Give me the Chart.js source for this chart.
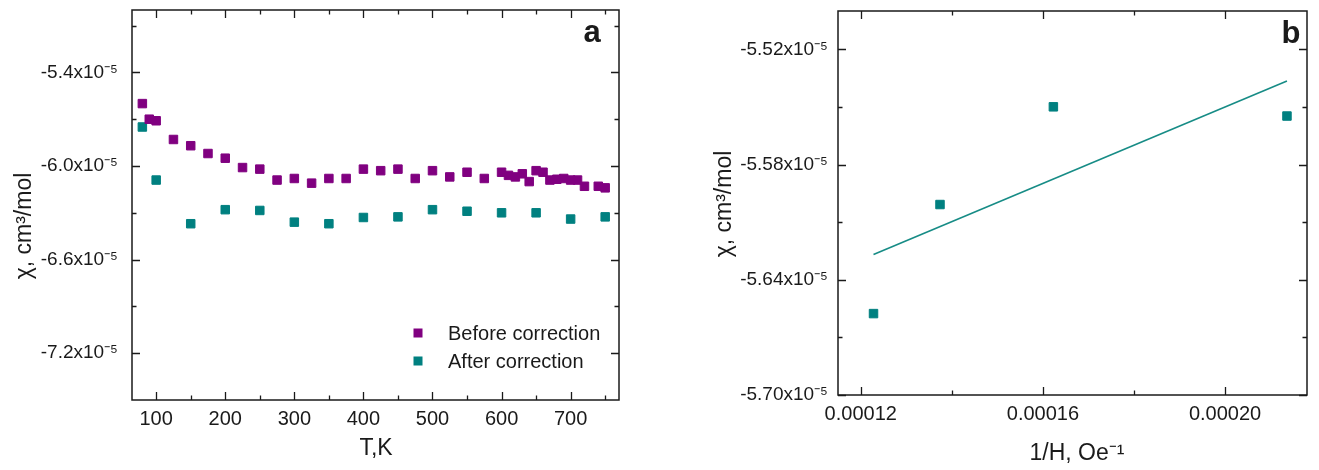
<!DOCTYPE html>
<html lang="en">
<head>
<meta charset="UTF-8">
<title>Magnetic susceptibility</title>
<script src="https://cdn.jsdelivr.net/npm/chart.js"></script>
<style>
    body { margin: 0; background: #fff; }
    .wrap { position: relative; width: 1319px; height: 470px; }
    #chartA { position: absolute; left: 0; top: 0; }
    #chartB { position: absolute; left: 660px; top: 0; }
</style>
</head>
<body>
<div class="wrap">
    <canvas id="chartA" width="660" height="470"></canvas>
    <canvas id="chartB" width="659" height="470"></canvas>
</div>
<script>
// panel a: chi in units of 1e-5 cm3/mol against T, K
const tempBefore = [80, 90, 100, 125, 150, 175, 200, 225, 250, 275, 300, 325, 350, 375, 400, 425, 450, 475, 500, 525, 550, 575,
    600, 610, 620, 630, 640, 650, 660, 670, 680, 690, 700, 710, 720, 740, 750];
const chiBefore = [-5.60, -5.70, -5.71, -5.83, -5.87, -5.92, -5.95, -6.01, -6.02, -6.09, -6.08, -6.11, -6.08, -6.08, -6.02, -6.03, -6.02, -6.08, -6.03, -6.07, -6.04, -6.08,
    -6.04, -6.06, -6.07, -6.05, -6.10, -6.03, -6.04, -6.09, -6.085, -6.08, -6.09, -6.09, -6.13, -6.13, -6.14];
const tempAfter = [80, 100, 150, 200, 250, 300, 350, 400, 450, 500, 550, 600, 650, 700, 750];
const chiAfter = [-5.75, -6.09, -6.37, -6.28, -6.285, -6.36, -6.37, -6.33, -6.326, -6.28, -6.29, -6.30, -6.30, -6.34, -6.326];
const xTicksA = [100, 200, 300, 400, 500, 600, 700];
const yTicksA = [-7.2, -6.6, -6.0, -5.4];

// panel b: chi (1e-5 cm3/mol) against 1/H, Oe^-1, with the linear fit
const invH = [0.0001228, 0.0001374, 0.0001623, 0.0002136];
const chiH = [-5.6576, -5.6008, -5.5499, -5.5547];
const fitX = [0.0001228, 0.0002136];
const fitY = [-5.6268, -5.5364];
const xTicksB = [0.00012, 0.00016, 0.00020];
const xTickLabelsB = ['0.00012', '0.00016', '0.00020'];
const yTicksB = [-5.70, -5.64, -5.58, -5.52];

const PURPLE = '#800080';
const TEAL = '#008080';
const INK = '#1a1a1a';
const FONT = '"Liberation Sans", Arial, sans-serif';

// midpoints between major ticks, plus one step beyond each end, kept inside the axis
function minorTicks(major, min, max) {
    const step = major[1] - major[0];
    const out = [];
    for (let i = -1; i < major.length; i++) {
        const v = (i < 0 ? major[0] - step : major[i]) + step / 2;
        if (v > min + 1e-12 && v < max - 1e-12) out.push(v);
    }
    return out;
}

// box round the plot with inward ticks on all four sides
const frameTicks = {
    id: 'frameTicks',
    afterDraw(chart, args, opts) {
        const { ctx, chartArea: a, scales: { x, y } } = chart;
        ctx.save();
        ctx.strokeStyle = INK;
        ctx.lineWidth = 1.5;
        ctx.strokeRect(a.left, a.top, a.right - a.left, a.bottom - a.top);
        ctx.lineWidth = 1.3;
        ctx.beginPath();
        const xt = (v, len) => {
            const p = Math.round(x.getPixelForValue(v)) + 0.5;
            ctx.moveTo(p, a.bottom); ctx.lineTo(p, a.bottom - len);
            ctx.moveTo(p, a.top); ctx.lineTo(p, a.top + len);
        };
        const yt = (v, len) => {
            const p = Math.round(y.getPixelForValue(v)) + 0.5;
            ctx.moveTo(a.left, p); ctx.lineTo(a.left + len, p);
            ctx.moveTo(a.right, p); ctx.lineTo(a.right - len, p);
        };
        opts.xMajor.forEach(v => xt(v, 8));
        minorTicks(opts.xMajor, x.min, x.max).forEach(v => xt(v, 4.5));
        opts.yMajor.forEach(v => yt(v, 8));
        minorTicks(opts.yMajor, y.min, y.max).forEach(v => yt(v, 4.5));
        ctx.stroke();
        ctx.restore();
    }
};

// axis titles, panel letter and the in-plot legend
const panelText = {
    id: 'panelText',
    afterDraw(chart, args, opts) {
        const ctx = chart.ctx;
        ctx.save();
        ctx.fillStyle = INK;
        ctx.font = '23px ' + FONT;
        ctx.textAlign = 'center';
        ctx.textBaseline = 'alphabetic';
        ctx.fillText(opts.xTitle, opts.xTitlePos[0], opts.xTitlePos[1]);

        ctx.save();
        ctx.translate(opts.yTitlePos[0], opts.yTitlePos[1]);
        ctx.rotate(-Math.PI / 2);
        ctx.textBaseline = 'middle';
        ctx.fillText(opts.yTitle, 0, 0);
        ctx.restore();

        ctx.font = 'bold 31px ' + FONT;
        ctx.fillText(opts.letter, opts.letterPos[0], opts.letterPos[1]);

        if (opts.legend) {
            ctx.font = '20px ' + FONT;
            ctx.textAlign = 'left';
            ctx.textBaseline = 'middle';
            chart.data.datasets.forEach((ds, i) => {
                const yy = opts.legend.y + i * opts.legend.gap;
                ctx.fillStyle = ds.backgroundColor;
                ctx.fillRect(opts.legend.x - 4.5, yy - 4.5, 9, 9);
                ctx.fillStyle = INK;
                ctx.fillText(ds.label, opts.legend.x + 30, yy + 1);
            });
        }
        ctx.restore();
    }
};

function xScale(min, max, ticks, labelFn, height) {
    return {
        type: 'linear', min, max,
        grid: { display: false, drawTicks: false },
        border: { display: false },
        afterBuildTicks: s => { s.ticks = ticks.map(v => ({ value: v })); },
        afterFit: s => { s.height = height; s.paddingLeft = 0; s.paddingRight = 0; },
        ticks: { font: { family: FONT, size: 20 }, color: INK, padding: 7, maxRotation: 0, autoSkip: false, callback: labelFn }
    };
}

function yScale(min, max, ticks, digits, width, pad) {
    return {
        type: 'linear', min, max,
        grid: { display: false, drawTicks: false },
        border: { display: false },
        afterBuildTicks: s => { s.ticks = ticks.map(v => ({ value: v })); },
        afterFit: s => { s.width = width; s.paddingTop = 0; s.paddingBottom = 0; },
        ticks: { font: { family: FONT, size: 19 }, color: INK, padding: pad, autoSkip: false,
            callback: v => v.toFixed(digits) + 'x10\u207B\u2075' }
    };
}

new Chart(document.getElementById('chartA'), {
    type: 'scatter',
    data: {
        datasets: [
            {
                label: 'Before correction',
                data: tempBefore.map((t, i) => ({ x: t, y: chiBefore[i] })),
                backgroundColor: PURPLE, borderColor: PURPLE,
                pointStyle: 'rect', pointRadius: 6, borderWidth: 1
            },
            {
                label: 'After correction',
                data: tempAfter.map((t, i) => ({ x: t, y: chiAfter[i] })),
                backgroundColor: TEAL, borderColor: TEAL,
                pointStyle: 'rect', pointRadius: 6, borderWidth: 1
            }
        ]
    },
    options: {
        responsive: false,
        animation: false,
        layout: { padding: { top: 10, right: 41, left: 0, bottom: 0 } },
        scales: {
            x: xScale(65, 770, xTicksA, v => String(v), 70),
            y: yScale(-7.5, -5.0, yTicksA, 1, 132, 14)
        },
        plugins: {
            legend: { display: false },
            tooltip: { enabled: false },
            frameTicks: { xMajor: xTicksA, yMajor: yTicksA },
            panelText: {
                xTitle: 'T,K', xTitlePos: [376, 455],
                yTitle: '\u03C7, cm\u00B3/mol', yTitlePos: [25, 226],
                letter: 'a', letterPos: [592, 42],
                legend: { x: 418, y: 333, gap: 28 }
            }
        }
    },
    plugins: [frameTicks, panelText]
});

new Chart(document.getElementById('chartB'), {
    type: 'scatter',
    data: {
        datasets: [
            {
                label: 'data',
                data: invH.map((h, i) => ({ x: h, y: chiH[i] })),
                backgroundColor: TEAL, borderColor: TEAL,
                pointStyle: 'rect', pointRadius: 6, borderWidth: 1
            },
            {
                label: 'fit',
                data: fitX.map((h, i) => ({ x: h, y: fitY[i] })),
                showLine: true, borderColor: '#178c86', borderWidth: 1.6,
                pointRadius: 0
            }
        ]
    },
    options: {
        responsive: false,
        animation: false,
        layout: { padding: { top: 11, right: 12, left: 0, bottom: 0 } },
        scales: {
            x: xScale(0.000115, 0.000218, xTicksB, (v, i) => xTickLabelsB[i], 75),
            y: yScale(-5.70, -5.50, yTicksB, 2, 178, 10)
        },
        plugins: {
            legend: { display: false },
            tooltip: { enabled: false },
            frameTicks: { xMajor: xTicksB, yMajor: yTicksB },
            panelText: {
                xTitle: '1/H, Oe\u207B\u00B9', xTitlePos: [417, 460],
                yTitle: '\u03C7, cm\u00B3/mol', yTitlePos: [65, 204],
                letter: 'b', letterPos: [631, 43]
            }
        }
    },
    plugins: [frameTicks, panelText]
});
</script>
</body>
</html>
